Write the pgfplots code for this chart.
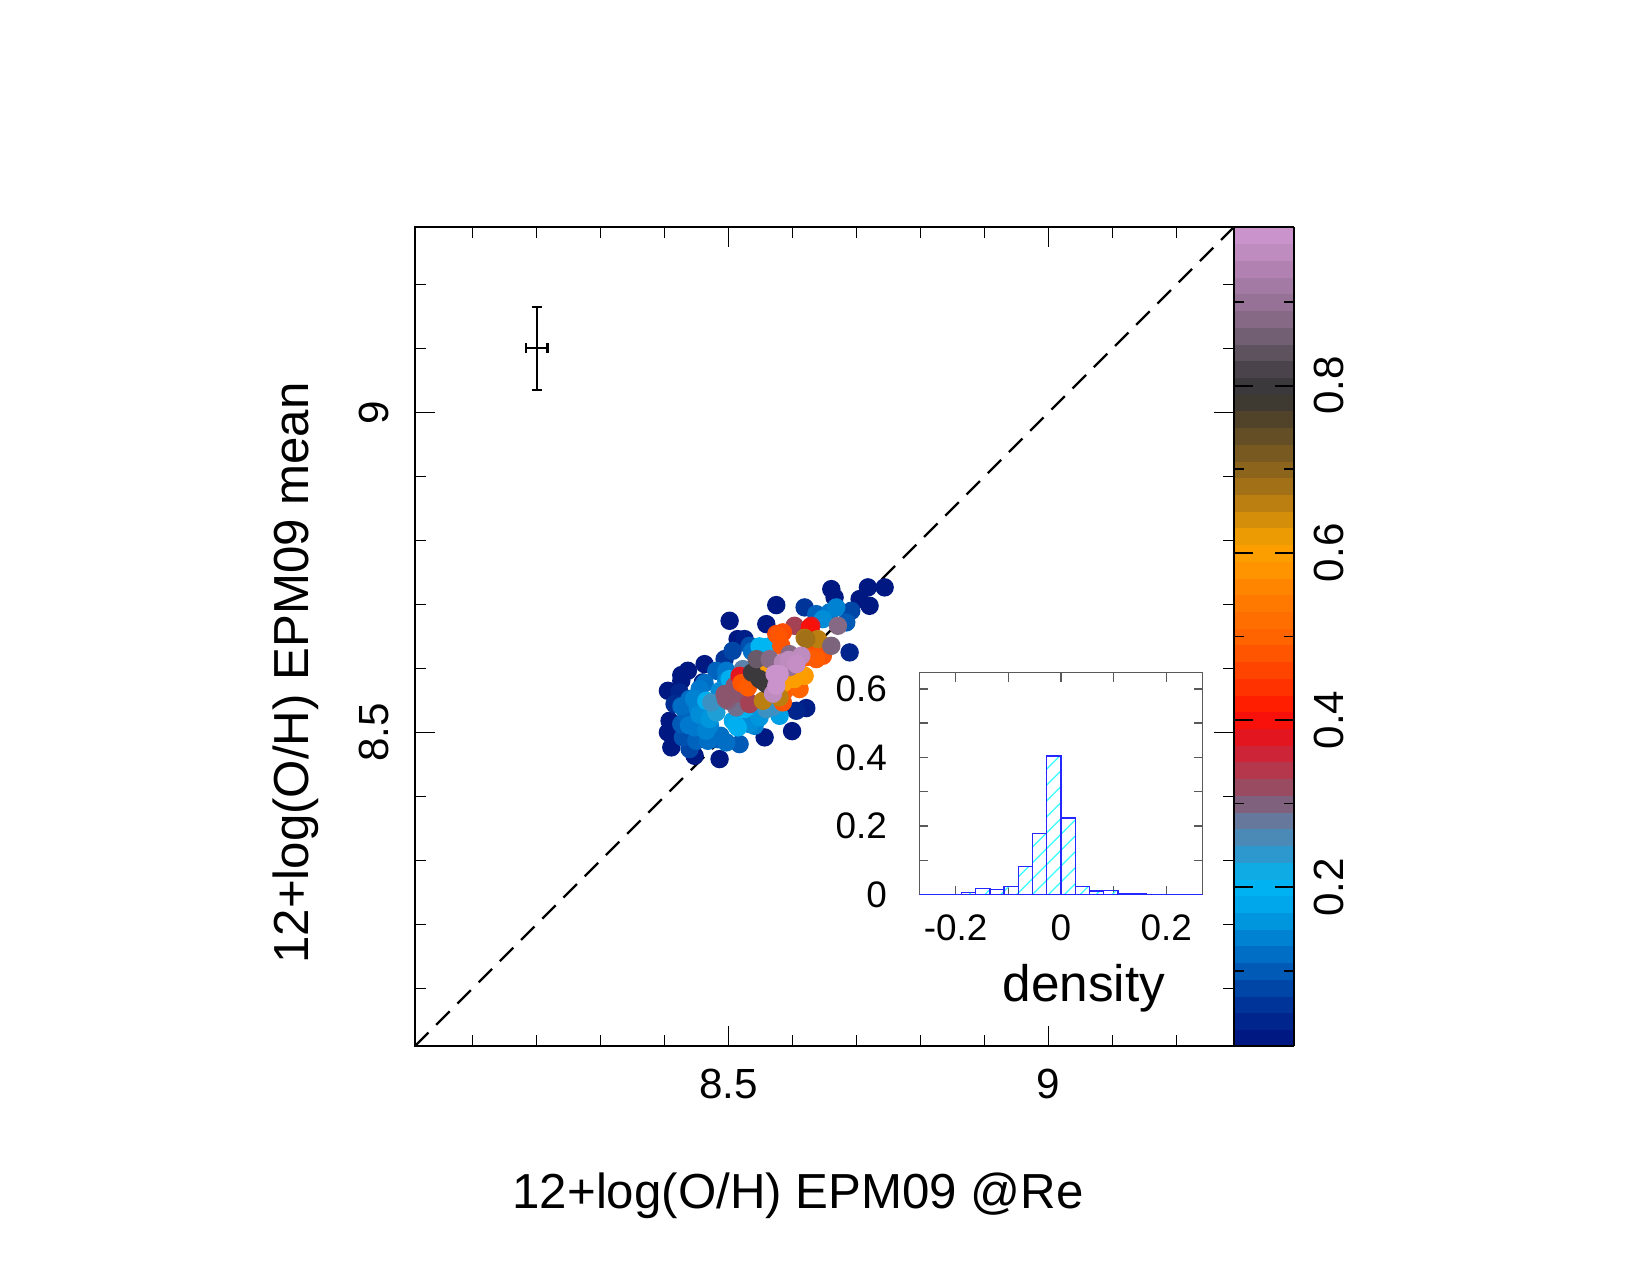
\documentclass[border=0pt]{standalone}
\usepackage{fontspec}
\setmainfont{Liberation Sans}
\usepackage{pgfplots}
\usepackage{pgfplotstable}
\pgfplotsset{compat=1.18}
\usetikzlibrary{patterns,patterns.meta}

\pgfplotsset{colormap={epm}{
rgb255(1pt)=(0,20,125) rgb255(3pt)=(0,30,135) rgb255(5pt)=(0,45,145)
rgb255(7pt)=(0,60,160) rgb255(9pt)=(0,80,175) rgb255(11pt)=(0,100,190)
rgb255(13pt)=(0,120,205) rgb255(15pt)=(0,140,215) rgb255(17pt)=(0,160,230)
rgb255(19pt)=(0,175,240) rgb255(21pt)=(0,182,242) rgb255(23pt)=(30,160,215)
rgb255(25pt)=(60,145,195) rgb255(27pt)=(90,130,170) rgb255(29pt)=(115,110,140)
rgb255(31pt)=(140,85,110) rgb255(33pt)=(165,65,85) rgb255(35pt)=(195,45,65)
rgb255(37pt)=(215,30,45) rgb255(39pt)=(240,15,20) rgb255(41pt)=(255,20,0)
rgb255(45pt)=(255,60,0) rgb255(50pt)=(255,100,0) rgb255(55pt)=(255,125,0)
rgb255(59pt)=(255,155,0) rgb255(61pt)=(250,160,0) rgb255(63pt)=(225,150,5)
rgb255(65pt)=(200,135,15) rgb255(67pt)=(175,120,20) rgb255(69pt)=(150,105,25)
rgb255(71pt)=(130,95,30) rgb255(73pt)=(110,85,35) rgb255(75pt)=(90,72,40)
rgb255(77pt)=(70,62,45) rgb255(79pt)=(55,55,55) rgb255(81pt)=(65,60,65)
rgb255(83pt)=(85,75,85) rgb255(85pt)=(105,90,105) rgb255(87pt)=(125,100,125)
rgb255(90pt)=(150,115,150) rgb255(93pt)=(170,125,170) rgb255(96pt)=(190,140,190)
rgb255(99pt)=(210,150,210)}}

\pgfplotstableread{
x y c
8.5016 8.6744 0.02
8.5745 8.6989 0.02
8.5589 8.6692 0.02
8.5141 8.6458 0.02
8.4625 8.6067 0.02
8.4364 8.5963 0.02
8.4261 8.5895 0.02
8.4598 8.5781 0.02
8.4261 8.5806 0.02
8.4052 8.5650 0.02
8.4078 8.5181 0.02
8.4052 8.5000 0.02
8.4105 8.4766 0.02
8.4469 8.4634 0.02
8.4859 8.4583 0.02
8.5563 8.4922 0.02
8.5992 8.5020 0.02
8.7438 8.7266 0.02
8.7177 8.7266 0.02
8.7047 8.7083 0.02
8.7203 8.6978 0.02
8.6605 8.7239 0.02
8.6656 8.7109 0.02
8.5250 8.6458 0.03
8.6214 8.5380 0.03
8.4234 8.5625 0.04
8.6058 8.5338 0.04
8.6891 8.6250 0.04
8.4156 8.5442 0.05
8.6188 8.6953 0.06
8.4938 8.6145 0.06
8.6917 8.6900 0.08
8.5063 8.6275 0.08
8.4391 8.4739 0.08
8.5328 8.6353 0.09
8.4286 8.4922 0.09
8.6839 8.6719 0.10
8.4261 8.5130 0.10
8.5172 8.4817 0.10
8.4808 8.5963 0.11
8.4339 8.5286 0.11
8.4495 8.4869 0.11
8.4833 8.4895 0.11
8.6370 8.6848 0.11
8.4677 8.4869 0.12
8.4964 8.4844 0.12
8.4391 8.5520 0.12
8.4264 8.5409 0.12
8.4625 8.5770 0.12
8.4955 8.5934 0.12
8.5366 8.6264 0.12
8.4872 8.4948 0.12
8.4964 8.5963 0.13
8.4469 8.5078 0.13
8.6578 8.6875 0.13
8.4547 8.5677 0.13
8.4380 8.5112 0.13
8.4964 8.5806 0.14
8.4520 8.5364 0.14
8.4650 8.5025 0.14
8.5406 8.5103 0.14
8.6683 8.6953 0.14
8.4708 8.5112 0.14
8.4461 8.5523 0.14
8.5328 8.5130 0.15
8.6473 8.6770 0.15
8.4859 8.5645 0.15
8.4544 8.5277 0.15
8.5484 8.5234 0.16
8.4703 8.5208 0.16
8.5797 8.5259 0.17
8.5067 8.5181 0.18
8.5016 8.5833 0.19
8.4652 8.5494 0.19
8.5145 8.5078 0.19
8.5119 8.5112 0.19
8.5578 8.6333 0.20
8.5250 8.5364 0.20
8.5484 8.6344 0.21
8.5667 8.6353 0.21
8.4808 8.5313 0.23
8.4730 8.5469 0.25
8.5688 8.5395 0.25
8.5589 8.5364 0.25
8.5223 8.5989 0.27
8.5120 8.5391 0.29
8.4989 8.5494 0.30
8.5094 8.5728 0.31
8.4938 8.5598 0.31
8.5119 8.5606 0.31
8.4955 8.5523 0.31
8.5316 8.5475 0.32
8.5328 8.5442 0.33
8.6031 8.6666 0.33
8.6292 8.6666 0.37
8.5172 8.5884 0.38
8.6270 8.6642 0.40
8.5745 8.6536 0.47
8.5848 8.6563 0.47
8.6297 8.6302 0.47
8.5823 8.6353 0.48
8.6473 8.6197 0.48
8.5848 8.5469 0.48
8.5777 8.6511 0.48
8.5202 8.5770 0.48
8.6352 8.6181 0.48
8.6516 8.6345 0.48
8.5302 8.5703 0.49
8.6370 8.6145 0.49
8.6214 8.6177 0.49
8.5875 8.5650 0.49
8.6109 8.5677 0.50
8.5563 8.6067 0.58
8.5719 8.5645 0.58
8.6188 8.5884 0.59
8.6031 8.5833 0.60
8.5612 8.6050 0.60
8.5859 8.5770 0.60
8.6105 8.5934 0.60
8.5536 8.5494 0.66
8.6395 8.6458 0.66
8.5797 8.5547 0.66
8.6188 8.6478 0.67
8.6214 8.6458 0.68
8.5484 8.5833 0.79
8.5589 8.5755 0.80
8.5530 8.5803 0.80
8.5366 8.5934 0.80
8.5438 8.6145 0.85
8.6605 8.6353 0.87
8.6708 8.6666 0.88
8.5953 8.6223 0.88
8.5641 8.6145 0.88
8.5953 8.6020 0.90
8.5848 8.6094 0.95
8.6136 8.6197 0.96
8.5941 8.6133 0.96
8.5694 8.5606 0.96
8.6058 8.6067 0.97
8.5719 8.5911 0.98
8.5797 8.5911 0.98
8.5745 8.5728 0.98
}\scat

\begin{document}
\begin{tikzpicture}
\useasboundingbox (0,0) rectangle (165mm,127.5mm);
\begin{axis}[
  at={(41.5mm,22.9mm)}, anchor=south west,
  scale only axis, width=81.92mm, height=81.92mm,
  xmin=8.01, xmax=9.29, ymin=8.01, ymax=9.29,
  xtick={8.5,9}, ytick={8.5,9},
  minor xtick={8.1,8.2,8.3,8.4,8.6,8.7,8.8,8.9,9.1,9.2},
  minor ytick={8.1,8.2,8.3,8.4,8.6,8.7,8.8,8.9,9.1,9.2},
  tick align=inside, major tick length=2mm, minor tick length=1.1mm,
  tick style={black, line width=0.5pt},
  axis line style={line width=0.5pt},
  tick label style={font=\fontsize{12}{14}\selectfont},
  /pgf/number format/assume math mode=true,
  xticklabel shift=1.1mm, yticklabel shift=1.4mm,
  yticklabel style={rotate=90, anchor=south},
  xlabel={12+log(O/H) EPM09 @Re},
  ylabel={12+log(O/H) EPM09 mean},
  label style={font=\fontsize{14}{17}\selectfont},
  xlabel style={at={(axis description cs:0.4676,-0.1978)}, anchor=base},
  ylabel style={at={(axis description cs:-0.1294,0.4554)}, anchor=base},
  colormap name=epm, point meta min=0.01, point meta max=0.99,
  colorbar, colorbar sampled,
  colorbar shift/.style={xshift=0pt},
  colorbar style={
    at={(parent axis.north east)}, anchor=north west, xshift=0pt,
    scale only axis, width=6mm, height=81.92mm,
    samples=50,
    ytick={0.2,0.4,0.6,0.8}, minor ytick={0.1,0.3,0.5,0.7,0.9},
    ytick pos=both, yticklabel pos=right,
    tick align=inside, major tick length=1.9mm, minor tick length=1mm,
    tick style={black, line width=0.5pt},
    axis line style={line width=0.5pt},
    /pgf/number format/assume math mode=true,
    yticklabel style={rotate=90, anchor=north, font=\fontsize{12}{14}\selectfont},
    yticklabel shift=0.7mm,
  },
]
\addplot[scatter, only marks, mark=*, mark size=0.85mm, point meta=explicit,
  scatter/use mapped color={draw=mapped color, fill=mapped color}]
  table[x=x, y=y, meta=c] {\scat};
\addplot[black, line width=0.7pt, dash pattern=on 1.9mm off 1.1mm]
  coordinates {(8.01,8.01) (9.29,9.29)};
\addplot[black, line width=0.6pt, mark=none,
  error bars/.cd, x dir=both, x explicit, y dir=both, y explicit,
  error bar style={line width=0.6pt},
  error mark options={rotate=90, mark size=1.4pt, line width=0.6pt}]
  coordinates {(8.2,9.1) +- (0.017,0.065)};
\end{axis}

\begin{axis}[
  at={(91.93mm,38.03mm)}, anchor=south west,
  scale only axis, width=28.34mm, height=22.2mm,
  xmin=-0.269, xmax=0.269, ymin=0, ymax=0.647,
  xtick={-0.2,0,0.2}, minor xtick={-0.1,0.1},
  ytick={0,0.2,0.4,0.6}, minor ytick={0.1,0.3,0.5},
  tick align=inside, major tick length=0.9mm, minor tick length=0.9mm,
  tick style={gray!70!black, line width=0.4pt},
  axis line style={gray!70!black, line width=0.4pt},
  tick label style={font=\fontsize{10.5}{12}\selectfont},
  /pgf/number format/assume math mode=true,
  xticklabel shift=0.8mm, yticklabel shift=2mm,
  xlabel={density},
  xlabel style={at={(axis description cs:0.581,-0.483)}, anchor=base, font=\fontsize{14.6}{17}\selectfont},
]
\addplot[ybar interval, draw=blue!85!white, line width=0.4pt,
  pattern={Lines[angle=45,distance=3.2pt,line width=0.35pt]}, pattern color=cyan!80]
  coordinates {(-0.27,0) (-0.243,0) (-0.216,0) (-0.189,0.006) (-0.162,0.0175)
  (-0.135,0.016) (-0.108,0.024) (-0.081,0.083) (-0.054,0.179) (-0.027,0.404)
  (0,0.223) (0.027,0.024) (0.054,0.011) (0.081,0.013) (0.108,0.002)
  (0.135,0.004) (0.162,0) (0.189,0) (0.216,0) (0.243,0) (0.27,0)};
\end{axis}
\end{tikzpicture}
\end{document}
